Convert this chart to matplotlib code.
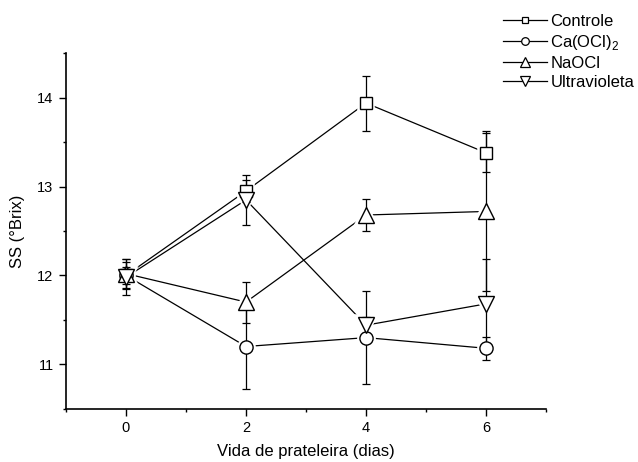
import matplotlib
matplotlib.use("Agg")
import matplotlib.pyplot as plt
from matplotlib.lines import Line2D
from matplotlib.ticker import MultipleLocator

plt.rcParams['font.family'] = ['Liberation Sans', 'DejaVu Sans']
plt.rcParams['mathtext.fontset'] = 'custom'
plt.rcParams['mathtext.rm'] = 'Liberation Sans'

# Shelf-life days and soluble solids (°Brix) per treatment, mean ± error
dias = [0, 2, 4, 6]

controle = [12.00, 12.95, 13.94, 13.38]
controle_err = [0.10, 0.12, 0.31, 0.22]

ca_ocl2 = [12.00, 11.20, 11.30, 11.18]
ca_ocl2_err = [0.15, 0.48, 0.52, 0.13]

naocl = [12.02, 11.70, 12.68, 12.72]
naocl_err = [0.16, 0.23, 0.18, 0.90]

ultravioleta = [11.98, 12.85, 11.44, 11.68]
ultravioleta_err = [0.20, 0.28, 0.09, 0.50]

# label, values, errors, marker, plot marker size, legend marker size
series = [
    ("Controle", controle, controle_err, "s", 8.5, 5.0),
    ("Ca(OCl)$_\\mathregular{2}$", ca_ocl2, ca_ocl2_err, "o", 9.5, 5.5),
    ("NaOCl", naocl, naocl_err, "^", 11.0, 6.5),
    ("Ultravioleta", ultravioleta, ultravioleta_err, "v", 11.0, 6.5),
]

fig = plt.figure(figsize=(6.38, 4.62), dpi=100)
ax = fig.add_axes([66 / 638, 1 - 408.7 / 462, 480 / 638, 355.4 / 462])

handles = []
for label, y, err, marker, ms, lms in series:
    # connecting line
    ax.plot(dias, y, color="black", lw=0.9, zorder=2)
    # white halo so the connecting lines stop short of each symbol
    ax.plot(dias, y, ls="none", marker=marker, ms=ms, mfc="white",
            mec="white", mew=4.0, zorder=2.5)
    # error bars
    ax.errorbar(dias, y, yerr=err, fmt="none", ecolor="black",
                elinewidth=0.9, capsize=3, capthick=0.9, zorder=3)
    # open symbols
    ax.plot(dias, y, ls="none", marker=marker, ms=ms, mfc="white",
            mec="black", mew=1.0, zorder=4)
    handles.append(Line2D([], [], color="black", lw=0.9, marker=marker,
                          ms=lms, mfc="white", mec="black", mew=0.9,
                          label=label))

ax.set_xlim(-1, 7)
ax.set_ylim(10.5, 14.5)
ax.xaxis.set_major_locator(MultipleLocator(2))
ax.xaxis.set_minor_locator(MultipleLocator(1))
ax.yaxis.set_major_locator(MultipleLocator(1))
ax.yaxis.set_minor_locator(MultipleLocator(0.5))

for side in ("top", "right"):
    ax.spines[side].set_visible(False)
for side in ("left", "bottom"):
    ax.spines[side].set_linewidth(1.2)

ax.tick_params(which="major", direction="out", length=5, width=1.0,
               labelsize=10.5, pad=4)
ax.tick_params(which="minor", direction="out", length=2.5, width=1.0)

ax.set_xlabel("Vida de prateleira (dias)", fontsize=12, labelpad=6)
ax.set_ylabel("SS (°Brix)", fontsize=12, labelpad=9)

fig.legend(handles=handles, loc="upper left",
           bbox_to_anchor=(503 / 638, 1 - 13.5 / 462),
           frameon=False, fontsize=12, borderpad=0, borderaxespad=0,
           handlelength=2.65, handletextpad=0.2, labelspacing=0.25)

fig.savefig("out.png", dpi=100)
